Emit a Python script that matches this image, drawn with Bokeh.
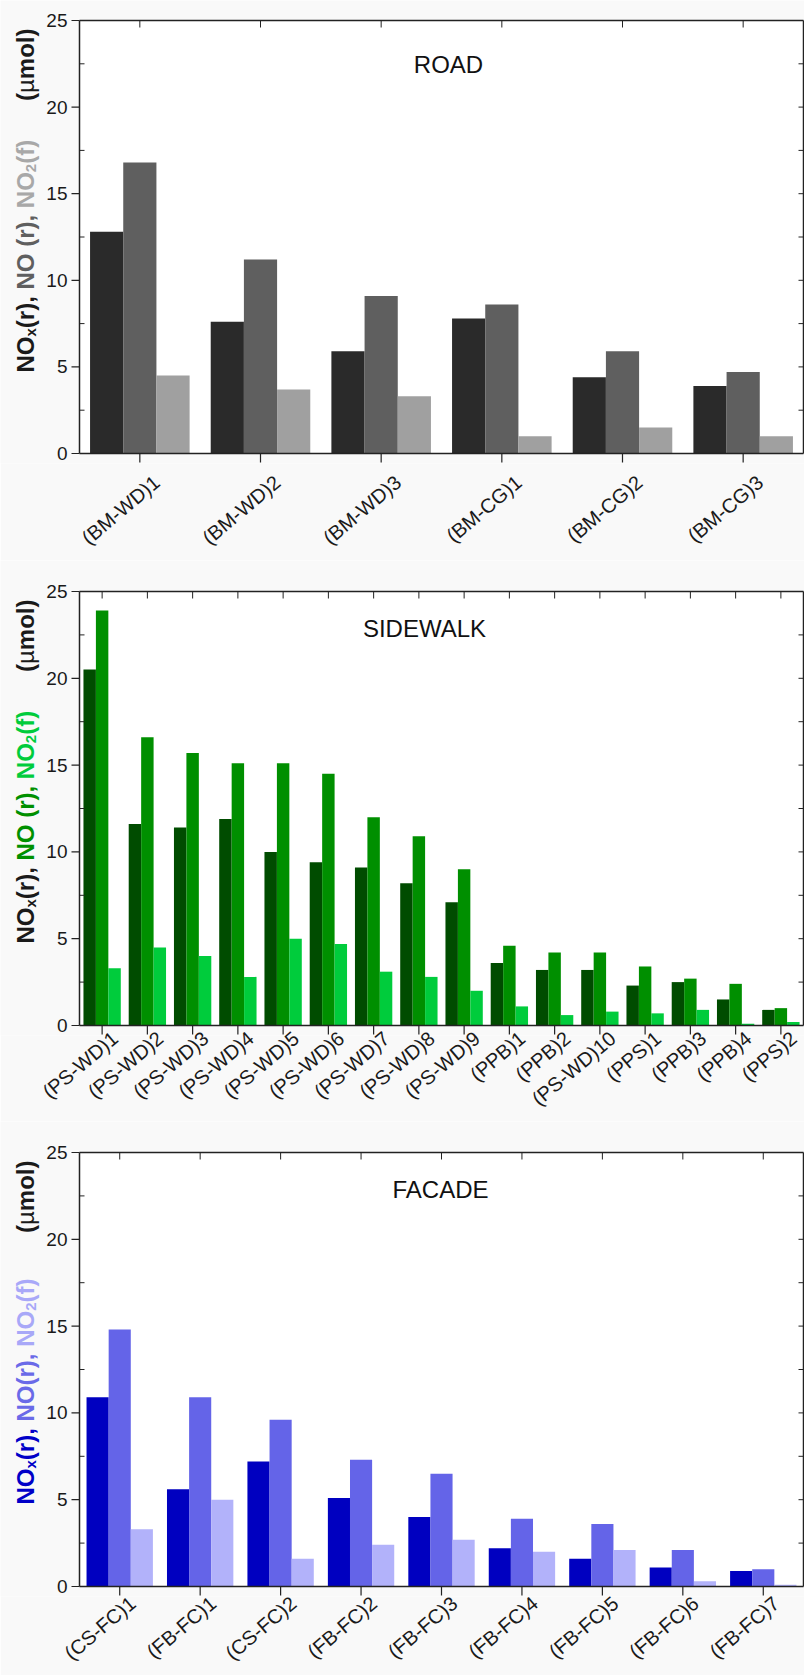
import numpy as np
from bokeh.plotting import figure
from bokeh.models import Range1d, FixedTicker, CustomJSTickFormatter
from bokeh.core.properties import value
from bokeh.layouts import column
from bokeh.embed import file_html
from bokeh.resources import INLINE

# ---------------- data ----------------
road_cats = ["(BM-WD)1", "(BM-WD)2", "(BM-WD)3", "(BM-CG)1", "(BM-CG)2", "(BM-CG)3"]
road_nox = [12.8, 7.6, 5.9, 7.8, 4.4, 3.9]
road_no = [16.8, 11.2, 9.1, 8.6, 5.9, 4.7]
road_no2 = [4.5, 3.7, 3.3, 1.0, 1.5, 1.0]

side_cats = ["(PS-WD)1", "(PS-WD)2", "(PS-WD)3", "(PS-WD)4", "(PS-WD)5", "(PS-WD)6",
             "(PS-WD)7", "(PS-WD)8", "(PS-WD)9", "(PPB)1", "(PPB)2", "(PS-WD)10",
             "(PPS)1", "(PPB)3", "(PPB)4", "(PPS)2"]
side_nox = [20.5, 11.6, 11.4, 11.9, 10.0, 9.4, 9.1, 8.2, 7.1, 3.6, 3.2, 3.2, 2.3, 2.5, 1.5, 0.9]
side_no = [23.9, 16.6, 15.7, 15.1, 15.1, 14.5, 12.0, 10.9, 9.0, 4.6, 4.2, 4.2, 3.4, 2.7, 2.4, 1.0]
side_no2 = [3.3, 4.5, 4.0, 2.8, 5.0, 4.7, 3.1, 2.8, 2.0, 1.1, 0.6, 0.8, 0.7, 0.9, 0.1, 0.2]

fac_cats = ["(CS-FC)1", "(FB-FC)1", "(CS-FC)2", "(FB-FC)2", "(FB-FC)3", "(FB-FC)4",
            "(FB-FC)5", "(FB-FC)6", "(FB-FC)7"]
fac_nox = [10.9, 5.6, 7.2, 5.1, 4.0, 2.2, 1.6, 1.1, 0.9]
fac_no = [14.8, 10.9, 9.6, 7.3, 6.5, 3.9, 3.6, 2.1, 1.0]
fac_no2 = [3.3, 5.0, 1.6, 2.4, 2.7, 2.0, 2.1, 0.3, 0.1]

titles = ["ROAD", "SIDEWALK", "FACADE"]
y_tick_values = [0, 5, 10, 15, 20, 25]
y_tick_labels = ["0", "5", "10", "15", "20", "25"]
y_max = 25

road_colors = ["#2a2a2a", "#5f5f5f", "#a0a0a0"]
side_colors = ["#004c00", "#008f00", "#00cc3c"]
fac_colors = ["#0000c0", "#6464e8", "#b2b2fa"]

road_lab_colors = ["#1a1a1a", "#5f5f5f", "#a8a8a8"]
side_lab_colors = ["#1a1a1a", "#009000", "#00cc3c"]
fac_lab_colors = ["#0000c8", "#6a6ae8", "#a8a8f8"]

FONT = "Liberation Sans, Arial, sans-serif"
TXT = "#1a1a1a"
BG = "#f9f9f9"
AX = "#222222"

# Arial advance widths (per 1000 em) for laying out the rotated label pieces
W = {'N': 722, 'O': 778, 'x': 556, '(': 333, 'r': 389, ')': 333, ',': 278, ' ': 278,
     '2': 556, 'f': 333, 'm': 889, 'o': 611, 'l': 278, '\u00b5': 576}


def tw(s, size):
    return sum(W.get(ch, 556) for ch in s) / 1000.0 * size


FIG_W = 804      # whole figure = frame
LEFT_PX = 79     # frame px left of the y axis line
PLOT_W = 724     # y axis line -> right frame line
BELOW_PX = 10    # frame px kept below y=0 for the outward x ticks


def make_panel(cats, a, b, c, colors, title, title_px, lab_colors, no_space,
               top_px, plot_h, bottom, standoff, label_shift):
    n = len(cats)
    ppx = PLOT_W / n
    ppy = plot_h / y_max
    fx = lambda px: px / ppx          # px -> x data length
    fy = lambda px: px / ppy          # px -> y data length

    p = figure(x_range=Range1d(-fx(LEFT_PX), n + fx(1)),
               y_range=Range1d(-fy(BELOW_PX), y_max + fy(top_px)),
               frame_width=FIG_W, frame_height=top_px + plot_h + BELOW_PX,
               min_border_left=0, min_border_right=0, min_border_top=0,
               min_border_bottom=bottom, y_axis_location=None,
               output_backend="svg", toolbar_location=None,
               background_fill_color=BG, border_fill_color=BG, outline_line_color=None)
    p.grid.grid_line_color = None

    # plotting area
    p.quad(left=[0], right=[n], bottom=[0], top=[y_max], fill_color="white", line_color=None)

    idx = np.arange(n) + 0.5
    w = 0.275
    for vals, off, clr in ((a, -w, colors[0]), (b, 0.0, colors[1]), (c, w, colors[2])):
        p.vbar(x=idx + off, top=vals, bottom=0, width=w, fill_color=clr, line_color=None)

    # box
    p.segment(x0=[0, n, 0, 0], y0=[0, 0, y_max, 0], x1=[0, n, n, n], y1=[y_max, y_max, y_max, 0],
              line_color=AX, line_width=1.5)
    # left axis ticks (major out, minor in)
    p.segment(x0=[0] * len(y_tick_values), y0=y_tick_values,
              x1=[-fx(8)] * len(y_tick_values), y1=y_tick_values, line_color=AX, line_width=1.2)
    minor = [v + 2.5 for v in y_tick_values[:-1]]
    p.segment(x0=[0] * len(minor), y0=minor, x1=[fx(5)] * len(minor), y1=minor,
              line_color=AX, line_width=1)
    # right inward ticks every 2.5
    ry = [k * 2.5 for k in range(1, 10)]
    p.segment(x0=[n] * len(ry), y0=ry, x1=[n - fx(5)] * len(ry), y1=ry,
              line_color=AX, line_width=1)
    # top inward ticks and bottom outward ticks at categories
    p.segment(x0=idx, y0=[y_max] * n, x1=idx, y1=[y_max - fy(7)] * n, line_color=AX, line_width=1)
    p.segment(x0=idx, y0=[0] * n, x1=idx, y1=[-fy(9)] * n, line_color=AX, line_width=1.2)

    # y tick labels
    p.text(x=[-fx(12)] * len(y_tick_values), y=y_tick_values, text=y_tick_labels,
           text_font=value(FONT), text_font_size=value("19px"), text_color=TXT,
           text_align="right", text_baseline="middle")

    # title
    p.text(x=[fx(title_px[0])], y=[y_max - fy(title_px[1])], text=[title],
           text_font=value(FONT), text_font_size=value("24px"), text_color="#111111",
           text_align="center", text_baseline="middle")

    # multi-coloured rotated y label
    MAIN, SUB = 24, 15
    c1, c2, c3 = lab_colors

    def piece(text, pos_px, size, col, xpx, style="bold"):
        p.text(x=[-fx(xpx)], y=[y_max - fy(pos_px)], text=[text], angle=np.pi / 2,
               text_font=value(FONT), text_font_size=value(f"{size}px"),
               text_font_style=style, text_color=col,
               text_align="left", text_baseline="alphabetic")

    parts = [("NO", "m", c1), ("x", "s", c1), ("(r),", "m", c1), (" ", "sp", None),
             ("NO", "m", c2)]
    if not no_space:
        parts.append((" ", "sp", None))
    parts += [("(r),", "m", c2), (" ", "sp", None),
              ("NO", "m", c3), ("2", "s", c3), ("(f)", "m", c3)]
    pos = 352.0  # px below the y=25 line where the label starts
    for text, kind, col in parts:
        if kind == "sp":
            pos -= tw(" ", MAIN)
            continue
        size = SUB if kind == "s" else MAIN
        piece(text, pos, size, col, 49 if kind == "s" else 54)
        pos -= tw(text, size)

    # "(µmol)" placed from its top end downwards
    unit_parts = [("(", "bold"), ("\u00b5", "normal"), ("mol)", "bold")]
    total = sum(tw(t, MAIN) for t, _ in unit_parts)
    upos = 8 + total
    for t, st in unit_parts:
        piece(t, upos, MAIN, TXT, 54, st)
        upos -= tw(t, MAIN)

    # category labels from the bottom axis (ticks drawn above, labels offset right)
    xa = p.xaxis[0]
    xa.ticker = FixedTicker(ticks=list(idx + fx(label_shift)))
    xa.formatter = CustomJSTickFormatter(args=dict(labels=cats),
                                         code="return labels[Math.floor(tick)]")
    xa.axis_line_color = None
    xa.major_tick_out = 0
    xa.major_tick_in = 0
    xa.minor_tick_out = 0
    xa.minor_tick_in = 0
    xa.major_label_text_font = FONT
    xa.major_label_text_font_size = "20px"
    xa.major_label_text_color = TXT
    xa.major_label_orientation = 0.7
    xa.major_label_standoff = standoff
    return p


p1 = make_panel(road_cats, road_nox, road_no, road_no2, road_colors, titles[0], (369, 44),
                road_lab_colors, False, 20, 433, 97, 16, 17)
p2 = make_panel(side_cats, side_nox, side_no, side_no2, side_colors, titles[1], (345, 37),
                side_lab_colors, False, 31, 434, 85, 0, 13)
p3 = make_panel(fac_cats, fac_nox, fac_no, fac_no2, fac_colors, titles[2], (361, 37),
                fac_lab_colors, True, 31, 434, 78, 4, 13)
layout = column(p1, p2, p3, spacing=0)

open("out.html", "w").write(file_html(layout, INLINE))
